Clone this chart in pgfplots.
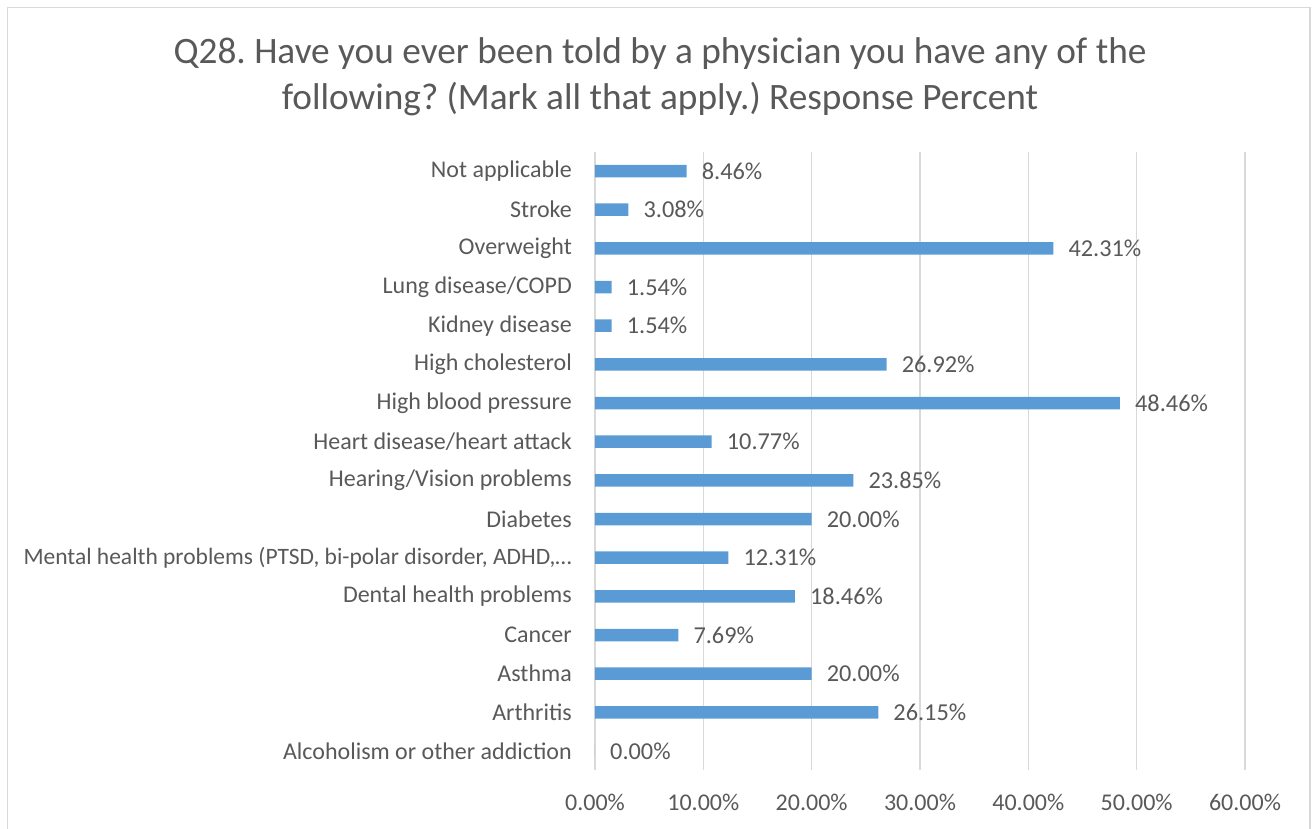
\documentclass[border=0pt]{standalone}
\usepackage{pgfplots}
\pgfplotsset{compat=1.18}
\usepackage{fontspec}
\setmainfont{Carlito}
\frenchspacing
\definecolor{barblue}{HTML}{5B9BD5}
\definecolor{txtgray}{HTML}{595959}
\definecolor{gridgray}{HTML}{D9D9D9}
\begin{document}
\begin{tikzpicture}[x=1pt,y=1pt]
\begin{axis}[
  name=ax,
  scale only axis, width=650pt, height=618.7pt,
  xbar, bar width=12.5pt,
  xmin=0, xmax=60, ymin=-0.5, ymax=15.5,
  xtick={0,10,...,60},
  xticklabels={0.00\%,10.00\%,20.00\%,30.00\%,40.00\%,50.00\%,60.00\%},
  ytick={0,...,15},
  yticklabels={Alcoholism or other addiction, Arthritis, Asthma, Cancer, Dental health problems,
    {\fontsize{23.5}{29}\selectfont Mental health problems (PTSD, bi-polar disorder, ADHD,…}, Diabetes, Hearing/Vision problems,
    Heart disease/heart attack, High blood pressure, High cholesterol, Kidney disease,
    Lung disease/COPD, Overweight, Stroke, Not applicable},
  major tick length=0pt,
  xmajorgrids, grid style={gridgray, line width=1.5pt},
  axis line style={draw=none},
  /pgf/number format/assume math mode=true,
  tick label style={txtgray, font=\fontsize{24}{29}\selectfont, inner sep=0pt},
  yticklabel style={anchor=east, xshift=-23pt},
  xticklabel style={anchor=base, yshift=-40pt},
  point meta=x,
  nodes near coords={\pgfmathprintnumber[fixed,fixed zerofill,precision=2]{\pgfplotspointmeta}\%},
  nodes near coords style={txtgray, font=\fontsize{24.3}{29}\selectfont, anchor=west, inner sep=0pt, xshift=15pt},
]
\addplot[fill=barblue, draw=none] coordinates {
  (0.00,0) (26.15,1) (20.00,2) (7.69,3) (18.46,4) (12.31,5) (20.00,6) (23.85,7)
  (10.77,8) (48.46,9) (26.92,10) (1.54,11) (1.54,12) (42.31,13) (3.08,14) (8.46,15)
};
\end{axis}
\pgfresetboundingbox
\begin{scope}[shift={(ax.south west)}, xshift=-595pt, yshift=-57.6pt]
\useasboundingbox (0,0) rectangle (1312,828);
% chart frame
\draw[gridgray, line width=1.6pt] (7.5,-10) -- (7.5,820.5) -- (1310,820.5) -- (1310,-10);
% title
\node[txtgray, align=center, font=\fontsize{37.3}{46}\selectfont] at (660,751)
  {Q28. Have you ever been told by a physician you have any of the\\following? (Mark all that apply.) Response Percent};
\end{scope}
\end{tikzpicture}
\end{document}
